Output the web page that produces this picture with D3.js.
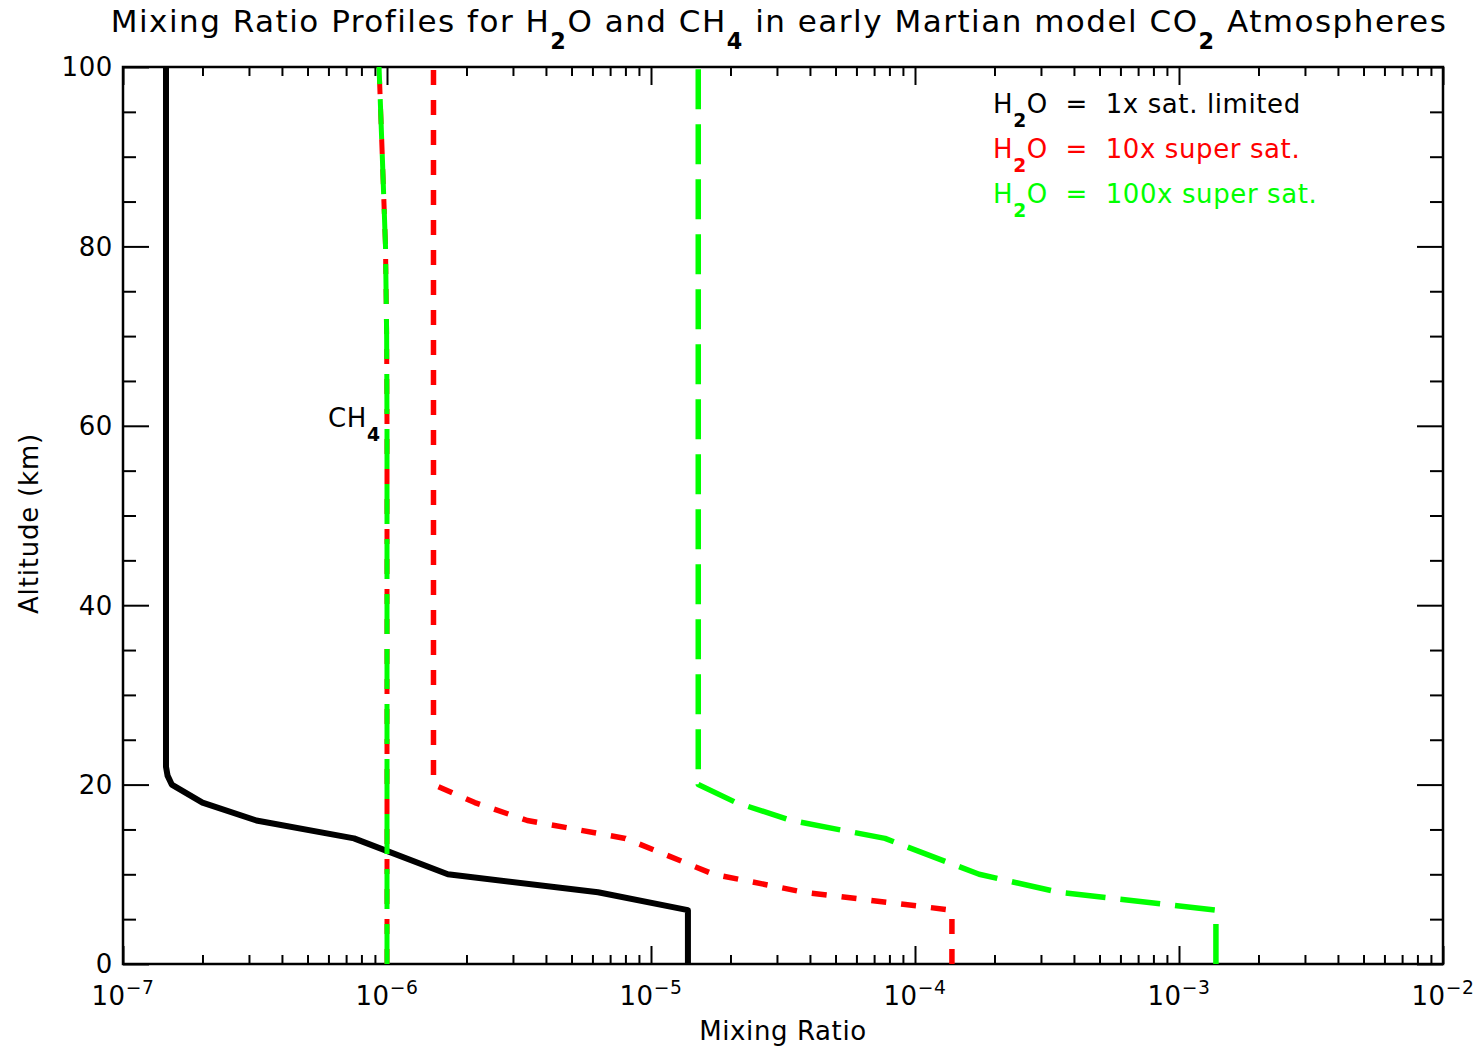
<!DOCTYPE html>
<html>
<head>
<meta charset="utf-8">
<script src="https://cdn.jsdelivr.net/npm/d3@7"></script>
<style>
  body { margin: 0; background: #fff; }
  text { font-family: "DejaVu Sans", sans-serif; }
</style>
</head>
<body>
<div id="figure"></div>
<script>
// profiles: altitude (km) vs mixing ratio
const altSat1x = [0, 6, 8, 10, 14, 16, 18, 20, 21, 22, 100];
const mrSat1x = [1.38e-5, 1.38e-5, 6.3e-6, 1.7e-6, 7.5e-7, 3.2e-7, 2.0e-7, 1.53e-7, 1.475e-7, 1.455e-7, 1.455e-7];

const altSuper10x = [0, 6, 8, 10, 14, 16, 18, 20, 100];
const mrSuper10x = [1.38e-4, 1.38e-4, 3.8e-5, 1.73e-5, 8.0e-6, 3.4e-6, 2.15e-6, 1.5e-6, 1.5e-6];

const altSuper100x = [0, 6, 8, 10, 14, 16, 18, 20, 100];
const mrSuper100x = [1.38e-3, 1.38e-3, 3.5e-4, 1.75e-4, 7.7e-5, 3.4e-5, 2.1e-5, 1.51e-5, 1.51e-5];

const altCH4 = [0, 60, 70, 80, 90, 100];
const mrCH4 = [1.0e-6, 1.0e-6, 9.97e-7, 9.87e-7, 9.6e-7, 9.33e-7];

const xDecades = [-7, -6, -5, -4, -3, -2];
const yMajor = [0, 20, 40, 60, 80, 100];
const yMinorStep = 5;

const legendLabels = ["1x sat. limited", "10x super sat.", "100x super sat."];
const legendColors = ["#000000", "#ff0000", "#00ff00"];

const W = 1480, H = 1048;
const margin = {top: 67, right: 37, bottom: 84, left: 123},
  width = W - margin.left - margin.right,
  height = H - margin.top - margin.bottom;

const svg = d3.select("#figure").append("svg")
  .attr("width", W).attr("height", H);
const g = svg.append("g").attr("transform", `translate(${margin.left},${margin.top})`);

const x = d3.scaleLog().domain([1e-7, 1e-2]).range([0, width]);
const y = d3.scaleLinear().domain([0, 100]).range([height, 0]);

const xMajor = xDecades.map(e => Math.pow(10, e));
const xMinor = [];
xDecades.slice(0, -1).forEach(e => {
  for (let k = 2; k <= 9; k++) xMinor.push(k * Math.pow(10, e));
});
const yMinor = d3.range(0, 101, yMinorStep).filter(v => v % 20 !== 0);

// ticks on all four sides, pointing inward
function ticks(axis, values, size, transform) {
  const a = g.append("g").attr("transform", transform)
    .call(axis.tickValues(values).tickSize(size).tickFormat(""));
  a.select(".domain").remove();
  a.selectAll("line").attr("stroke", "#000").attr("stroke-width", 2);
}
ticks(d3.axisBottom(x), xMajor, -18, `translate(0,${height})`);
ticks(d3.axisBottom(x), xMinor, -9, `translate(0,${height})`);
ticks(d3.axisTop(x), xMajor, -18, "translate(0,0)");
ticks(d3.axisTop(x), xMinor, -9, "translate(0,0)");
ticks(d3.axisLeft(y), yMajor, -26, "translate(0,0)");
ticks(d3.axisLeft(y), yMinor, -13, "translate(0,0)");
ticks(d3.axisRight(y), yMajor, -26, `translate(${width},0)`);
ticks(d3.axisRight(y), yMinor, -13, `translate(${width},0)`);

g.append("rect").attr("width", width).attr("height", height)
  .attr("fill", "none").attr("stroke", "#000").attr("stroke-width", 2.5);

// profile lines
const line = d3.line().x(d => x(d[1])).y(d => y(d[0]));
function profile(alts, mrs, color, w, dash) {
  g.append("path")
    .datum(d3.zip(alts, mrs))
    .attr("d", line)
    .attr("fill", "none")
    .attr("stroke", color)
    .attr("stroke-width", w)
    .attr("stroke-linejoin", "round")
    .attr("stroke-dasharray", dash);
}
profile(altSat1x, mrSat1x, "#000", 6, null);
profile(altSuper10x, mrSuper10x, "#ff0000", 5.5, "15,15");
profile(altCH4, mrCH4, "#ff0000", 5, "15,15");
profile(altSuper100x, mrSuper100x, "#00ff00", 5.5, "40,15");
profile(altCH4, mrCH4, "#00ff00", 5, "40,15");

// text with sub/superscripts: parts = [[string, "sub"|"sup"|null], ...]
function rich(parent, px, py, parts, size, anchor, color, spacing) {
  const t = parent.append("text").attr("x", px).attr("y", py)
    .attr("font-size", size).attr("text-anchor", anchor || "start")
    .attr("letter-spacing", spacing || 0.6)
    .style("fill", color || "#000").attr("xml:space", "preserve");
  let shift = 0;
  parts.forEach(([s, kind]) => {
    let target = kind === "sub" ? size * 0.55 : kind === "sup" ? -size * 0.42 : 0;
    t.append("tspan").attr("dy", target - shift)
      .attr("font-size", kind ? size * 0.72 : size)
      .attr("font-weight", kind === "sub" ? "bold" : null)
      .text(s);
    shift = target;
  });
  return t;
}

// x tick labels
xDecades.forEach(e => {
  rich(g, x(Math.pow(10, e)), height + 41, [["10", null], ["\u2212" + (-e), "sup"]], 26, "middle");
});
// y tick labels
yMajor.forEach(v => {
  g.append("text").attr("x", -10).attr("y", y(v)).attr("dy", "0.36em")
    .attr("text-anchor", "end").attr("font-size", 26).attr("letter-spacing", 0.6).text(v);
});

// axis titles
g.append("text").attr("x", x(10 ** -4.5)).attr("y", height + 76)
  .attr("text-anchor", "middle").attr("font-size", 26).attr("letter-spacing", 0.6).text("Mixing Ratio");
svg.append("text").attr("transform", `translate(38,${margin.top + height / 2 + 8}) rotate(-90)`)
  .attr("text-anchor", "middle").attr("font-size", 26).attr("letter-spacing", 0.8).text("Altitude (km)");

// title
rich(svg, 779, 32, [
  ["Mixing Ratio Profiles for H", null], ["2", "sub"], ["O and CH", null], ["4", "sub"],
  [" in early Martian model CO", null], ["2", "sub"], [" Atmospheres", null]
], 31, "middle", "#000", 1.5);

// legend
legendLabels.forEach((lab, i) => {
  rich(svg, 993, 113 + i * 45, [["H", null], ["2", "sub"], ["O  =  " + lab, null]], 26, "start", legendColors[i]);
});

// CH4 label next to the methane profile
rich(svg, 328, 427, [["CH", null], ["4", "sub"]], 26, "start");
</script>
</body>
</html>
